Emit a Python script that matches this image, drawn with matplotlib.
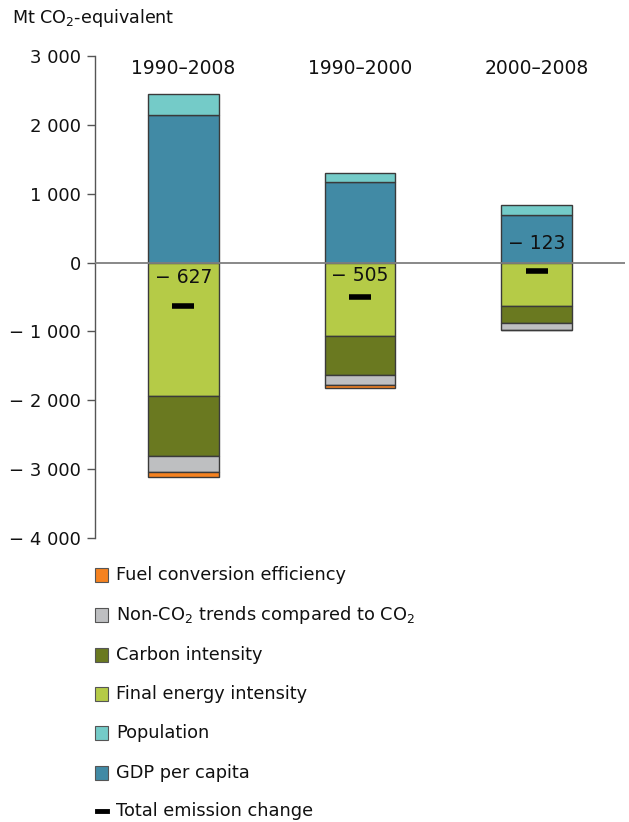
import matplotlib
matplotlib.use("Agg")
import matplotlib.pyplot as plt
from matplotlib.patches import Rectangle
import numpy as np

periods = ["1990–2008", "1990–2000", "2000–2008"]
gdp_per_capita = [2150, 1165, 690]
population = [305, 132, 150]
final_energy_intensity = [-1945, -1060, -635]
carbon_intensity = [-866, -580, -240]
non_co2_trends = [-232, -135, -97]
fuel_conversion = [-66, -44, -8]
total_change = [-627, -505, -123]
total_labels = ["− 627", "− 505", "− 123"]
yticks = [3000, 2000, 1000, 0, -1000, -2000, -3000, -4000]
ytick_labels = ["3 000", "2 000", "1 000", "0", "− 1 000", "− 2 000", "− 3 000", "− 4 000"]

legend_items = [
    ("Fuel conversion efficiency", "#F58220"),
    ("Non-CO$_2$ trends compared to CO$_2$", "#BEBFC1"),
    ("Carbon intensity", "#6A7920"),
    ("Final energy intensity", "#B5CB47"),
    ("Population", "#74CBC8"),
    ("GDP per capita", "#418AA5"),
]

plt.rcParams['font.family'] = ['DejaVu Sans']
fig = plt.figure(figsize=(6.29, 8.22), dpi=100)
ax = fig.add_axes([95/629, 1-538/822, (625-95)/629, (538-56)/822])

x = np.arange(len(periods))
w = 0.40
ec = "#3a3a3a"
lw = 1.0
ax.bar(x, gdp_per_capita, w, color="#418AA5", edgecolor=ec, linewidth=lw, zorder=2)
ax.bar(x, population, w, bottom=gdp_per_capita, color="#74CBC8", edgecolor=ec, linewidth=lw, zorder=2)
b = np.zeros(3)
for vals, col in [(final_energy_intensity, "#B5CB47"), (carbon_intensity, "#6A7920"),
                  (non_co2_trends, "#BEBFC1"), (fuel_conversion, "#F58220")]:
    ax.bar(x, vals, w, bottom=b, color=col, edgecolor=ec, linewidth=lw, zorder=2)
    b = b + np.array(vals)

ax.axhline(0, color="#7f7f7f", linewidth=1.3, zorder=3)
ax.plot(x, total_change, linestyle="none", marker="_", markersize=16, markeredgewidth=4,
        color="black", zorder=5)

label_y = [-220, -190, 270]
for xi, lab, ly in zip(x, total_labels, label_y):
    ax.text(xi, ly, lab, ha="center", va="center", fontsize=13.5, color="#111111", zorder=6)

for xi, p in zip(x, periods):
    ax.text(xi, 2820, p, ha="center", va="center", fontsize=13.5, color="#111111")

ax.set_xlim(-0.5, 2.5)
ax.set_ylim(-4000, 3000)
ax.set_xticks([])
ax.set_yticks(yticks)
ax.set_yticklabels(ytick_labels, fontsize=13, color="#111111")
ax.tick_params(axis="y", direction="out", length=6, width=1, color="#555555", pad=4)
for s in ["top", "right", "bottom"]:
    ax.spines[s].set_visible(False)
ax.spines["left"].set_color("#555555")
ax.spines["left"].set_linewidth(1)

fig.text(12/629, 1-18/822, "Mt CO$_2$-equivalent", fontsize=12.6, va="center", ha="left", color="#111111")

ys = [575, 615, 655, 694, 733, 773]
for (lab, col), yy in zip(legend_items, ys):
    fig.add_artist(Rectangle((95/629, 1-(yy+7)/822), 13/629, 14/822, transform=fig.transFigure,
                             facecolor=col, edgecolor="#555555", linewidth=0.8))
    fig.text(116/629, 1-yy/822, lab, fontsize=12.8, va="center", ha="left", color="#111111")
fig.add_artist(plt.Line2D([97/629, 107/629], [1-811/822, 1-811/822], transform=fig.transFigure,
                          color="black", linewidth=3.5))
fig.text(116/629, 1-811/822, "Total emission change", fontsize=12.8, va="center", ha="left", color="#111111")

fig.savefig("out.png", dpi=100)
